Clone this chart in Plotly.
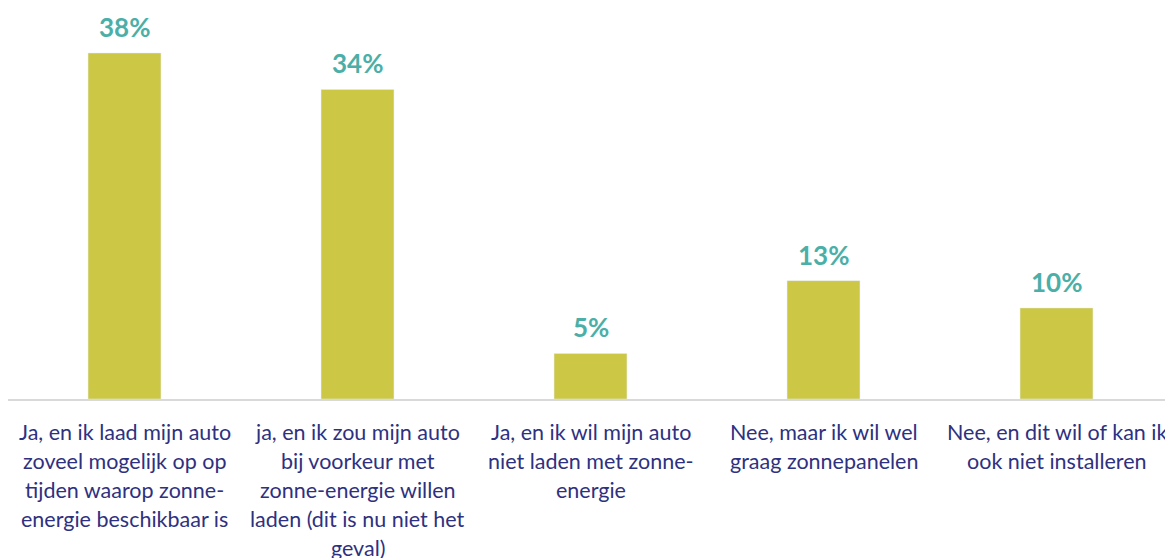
import plotly.graph_objects as go

categories = ["cat1", "cat2", "cat3", "cat4", "cat5"]
values = [38, 34, 5, 13, 10]
value_labels = ["38%", "34%", "5%", "13%", "10%"]
category_lines = [
    ["Ja, en ik laad mijn auto", "zoveel mogelijk op op", "tijden waarop zonne-", "energie beschikbaar is"],
    ["ja, en ik zou mijn auto", "bij voorkeur met", "zonne-energie willen", "laden (dit is nu niet het", "geval)"],
    ["Ja, en ik wil mijn auto", "niet laden met zonne-", "energie"],
    ["Nee, maar ik wil wel", "graag zonnepanelen"],
    ["Nee, en dit wil of kan ik", "ook niet installeren"],
]

BAR = "#CCC744"
TEAL = "#4BAFA8"
NAVY = "#2E3180"
FONT = "Lato"

# page has an 8px body margin, so the figure sits at (8, 8)
W, H = 1165, 550
ml, mr, mt, mb = 0, 0, 0, 159
plot_h = H - mt - mb
px_per_unit = 346 / 38
ymax = plot_h / px_per_unit

fig = go.Figure()
fig.add_trace(go.Bar(
    x=categories, y=values, marker_color=BAR, width=0.313,
    hoverinfo="skip",
))

ann = []
for c, v, t in zip(categories, values, value_labels):
    ann.append(dict(x=c, y=v, xref="x", yref="y", text=t, showarrow=False,
                    yanchor="bottom", yshift=8,
                    font=dict(family=FONT, size=26, color=TEAL, weight="bold")))

line_gap = 29
first_offset = 33
for c, lines in zip(categories, category_lines):
    for i, ln in enumerate(lines):
        ann.append(dict(x=c, y=0, xref="x", yref="y", text=ln, showarrow=False,
                        yanchor="middle", yshift=-(first_offset + i * line_gap),
                        font=dict(family=FONT, size=21.5, color=NAVY)))

fig.update_layout(
    width=W, height=H,
    margin=dict(l=ml, r=mr, t=mt, b=mb),
    paper_bgcolor="white", plot_bgcolor="white",
    showlegend=False,
    annotations=ann,
    xaxis=dict(showticklabels=False, showline=True, linecolor="#D9D9D9", linewidth=2,
               showgrid=False, zeroline=False, range=[-0.5, 4.5], ticks=""),
    yaxis=dict(visible=False, range=[0, ymax], showgrid=False, zeroline=False),
)

fig.write_html("out.html")
